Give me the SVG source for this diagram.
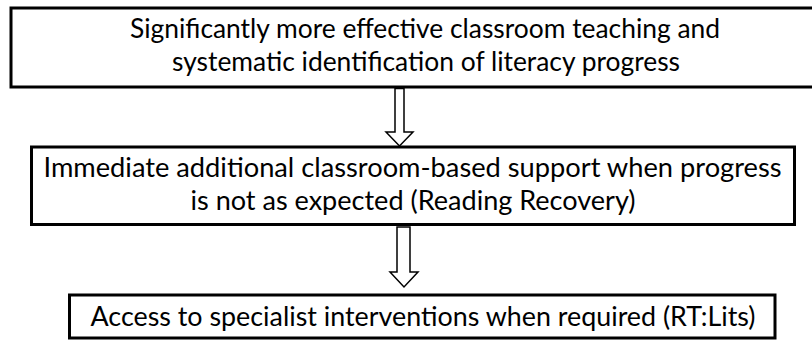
<svg xmlns="http://www.w3.org/2000/svg" width="812" height="340" viewBox="0 0 812 340">
<style>
.box{fill:#fff;stroke:#000;stroke-width:3}
.t{font-family:Lato,"Open Sans","Liberation Sans",sans-serif;font-size:26px;fill:#000;text-anchor:middle}
.arr{fill:#fff;stroke:#000;stroke-width:1.5;stroke-linejoin:miter}
</style>
<rect width="812" height="340" fill="#fff"/>
<g id="node1">
<rect class="box" x="11" y="8" width="810" height="79"/>
<text class="t" x="425" y="38" textLength="590" lengthAdjust="spacingAndGlyphs">Significantly more effective classroom teaching and</text>
<text class="t" x="426" y="71" textLength="508" lengthAdjust="spacingAndGlyphs">systematic identification of literacy progress</text>
</g>
<g id="node2">
<rect class="box" x="31.5" y="147" width="763" height="77.5"/>
<text class="t" x="412.5" y="177" textLength="738" lengthAdjust="spacingAndGlyphs">Immediate additional classroom-based support when progress</text>
<text class="t" x="413" y="210" textLength="445" lengthAdjust="spacingAndGlyphs">is not as expected (Reading Recovery)</text>
</g>
<g id="node3">
<rect class="box" x="69.5" y="295" width="705.5" height="43"/>
<text class="t" x="423" y="326" textLength="665" lengthAdjust="spacingAndGlyphs">Access to specialist interventions when required (RT:Lits)</text>
</g>
<g id="connectors">
<path class="arr" d="M395,88.5 H404 V132 H413 L399.5,146 L386,132 H395 Z"/>
<path class="arr" d="M397,227 H410 V272 H418 L404,287 L390,272 H397 Z"/>
</g>
</svg>
